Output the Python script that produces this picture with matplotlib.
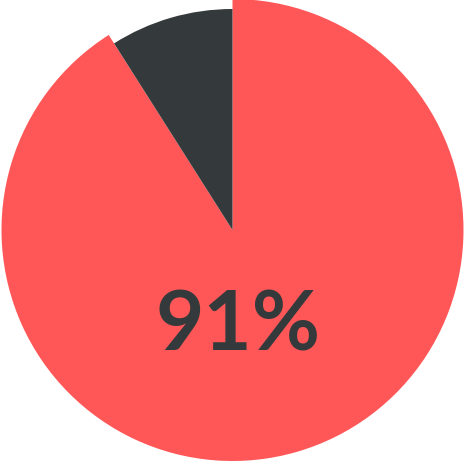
import matplotlib
matplotlib.use("Agg")
import matplotlib.pyplot as plt

labels = ["Yes", "No"]
values = [91, 9]
colors = ["#FF5757", "#343A3B"]
center_label = "91%"

fig = plt.figure(figsize=(4.65, 4.64), dpi=100)
ax = fig.add_axes([0, 0, 1, 1])

wedges, _ = ax.pie(values, colors=colors, startangle=90, counterclock=False,
                   center=(232.5, 233), radius=231, frame=True,
                   wedgeprops=dict(linewidth=0))
wedges[1].set_radius(221)
ax.set_xlim(0, 465)
ax.set_ylim(0, 464)
ax.set_aspect("equal")
ax.axis("off")

ax.text(238, 113, center_label, ha="center", va="baseline", fontsize=60,
        fontweight="bold", family=["Lato", "DejaVu Sans"], color=colors[1])

fig.savefig("out.png", dpi=100)
